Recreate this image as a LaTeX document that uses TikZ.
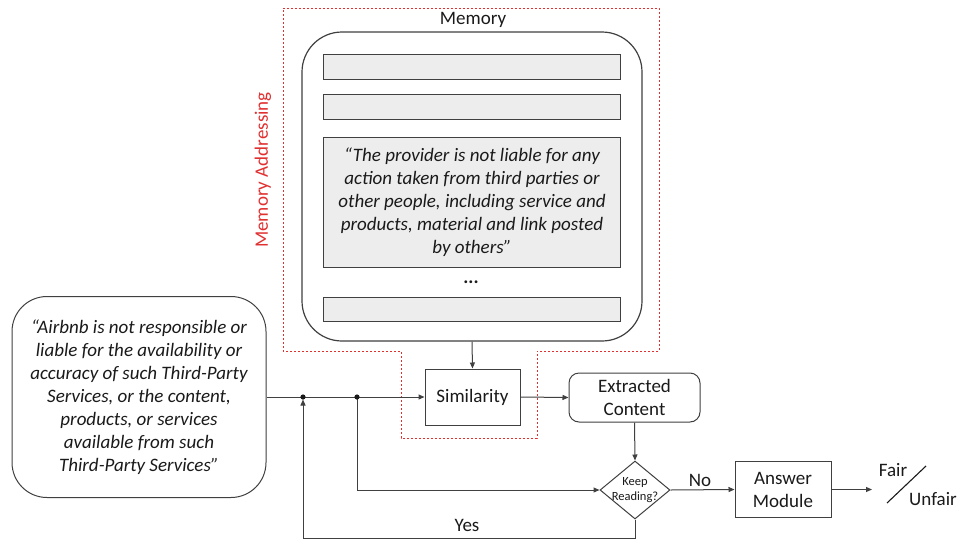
\documentclass[tikz,border=0pt]{standalone}
\usepackage{fontspec}
\setmainfont{Carlito}
\usetikzlibrary{shapes.geometric,arrows.meta}
\definecolor{ln}{HTML}{404040}
\definecolor{barfill}{HTML}{EDEDED}
\definecolor{redd}{HTML}{E03030}
\definecolor{txt}{HTML}{1A1A1A}
\tikzset{
  arr/.style={draw=ln, line width=1pt, -{Triangle[length=6pt,width=5pt]}},
  conn/.style={draw=ln, line width=1pt},
  box/.style={draw=ln, line width=1pt, fill=white, inner sep=0pt, align=center, text=txt},
  bar/.style={draw=ln, line width=1pt, fill=barfill, inner sep=0pt, align=center, text=txt, minimum width=297},
  big/.style={font=\fontsize{19}{23}\selectfont},
  lbl/.style={text=txt, inner sep=0pt, font=\fontsize{19}{23}\selectfont},
}
\begin{document}
\begin{tikzpicture}[x=1pt,y=-1pt]
\useasboundingbox (0,0) rectangle (958,541);
% memory addressing region
\draw[redd, line width=0.9pt, dash pattern=on 2.2pt off 1.8pt]
  (283,8) -- (659,8) -- (659,351) -- (537,351) -- (537,438) -- (401,438) -- (401,351) -- (283,351) -- cycle;
\node[lbl, text=redd, rotate=90] (madr) at (263,170) {Memory Addressing};
\node[lbl] (memlbl) at (473,20) {Memory};
% memory
\node[box, rounded corners=40pt, minimum width=340, minimum height=309, line width=1.2pt] (mem) at (472,186.5) {};
\node[bar, minimum height=25] (b1) at (472,66.5) {};
\node[bar, minimum height=25] (b2) at (472,106.5) {};
\node[bar, minimum height=130, big] (b3) at (472,202) {\itshape “The provider is not liable for any\\\itshape action taken from third parties or\\\itshape other people, including service and\\\itshape products, material and link posted\\\itshape by others”};
\node[lbl] (dots) at (471,282) {\textbf{...}};
\node[bar, minimum height=24] (b4) at (472,309) {};
% input
\node[box, rounded corners=35pt, minimum width=254, minimum height=201, big] (inp) at (139,397)
  {\itshape “Airbnb is not responsible or\\\itshape liable for the availability or\\\itshape accuracy of such Third-Party\\\itshape Services, or the content,\\\itshape products, or services\\\itshape available from such\\\itshape Third-Party Services”};
% process nodes
\node[box, minimum width=95, minimum height=56, big] (sim) at (472.5,397) {Similarity};
\node[box, rounded corners=10pt, minimum width=131, minimum height=49, big] (ext) at (634.5,397.5) {Extracted\\Content};
\node[box, diamond, shape aspect=1.2, minimum width=70, minimum height=58, inner sep=-3pt, font=\fontsize{12.5}{14.5}\selectfont] (kr) at (635,490) {Keep\\Reading?};
\node[box, minimum width=96, minimum height=56, big] (ans) at (783,489.5) {Answer\\Module};
% labels
\node[lbl] (no) at (700,480) {No};
\node[lbl] (yes) at (467,525) {Yes};
\node[lbl] (fair) at (893,470) {Fair};
\node[lbl] (unfair) at (933,499) {Unfair};
\coordinate (s1) at (887,503);
\coordinate (s2) at (926,466);
\draw[line width=1.1pt, txt] (s1) -- (s2);
% junctions
\coordinate (d1) at (303,397);
\coordinate (d2) at (357,397);
\coordinate (c1) at (303,538);
\coordinate (out) at (872,489.5);
% connectors
\draw[arr] (mem.south) -- (sim.north);
\draw[arr] (inp.east) -- (sim.west);
\draw[arr] (sim.east) -- (ext.west);
\draw[arr] (ext.south) -- (kr.north);
\draw[arr] (d2) |- (kr.west);
\draw[arr] (kr.east) -- (ans.west);
\draw[arr] (ans.east) -- (out);
\draw[arr, shorten >=2.5pt] (kr.south) |- (c1) -- (d1);
\fill[txt] (d1) circle (2.6);
\fill[txt] (d2) circle (2.6);
\end{tikzpicture}
\end{document}
